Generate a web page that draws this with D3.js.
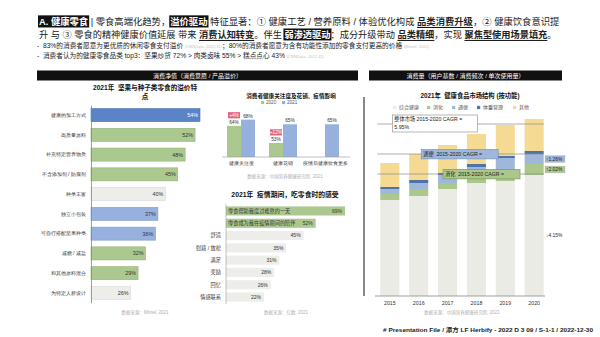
<!DOCTYPE html>
<html>
<head>
<meta charset="utf-8">
<script src="https://cdn.jsdelivr.net/npm/d3@7"></script>
<style>
  body { margin: 0; background: #fff; }
  svg { font-family: "Liberation Sans", "Noto Sans CJK SC", sans-serif; }
  text { white-space: pre; }
</style>
</head>
<body>
<svg id="slide" width="600" height="337"></svg>
<script>
// ---- left: 2021 nut & seed snack premium features (%)
const premiumCats = ["健康的加工方式", "高质量原料", "补充特定营养物质", "不含添加剂 / 防腐剂", "种类丰富",
    "独立小包装", "可自行搭配坚果种类", "减糖 / 减盐", "和其他原料混合", "为特定人群设计"];
const premiumVals = [54, 52, 48, 45, 40, 37, 36, 32, 29, 26];
const premiumTone = ["blue", "green", "green", "green", "grey", "lightblue", "lightblue", "green", "green", "grey"];

// ---- middle top: health attention / spending / after covid (%)
const attnGroups = ["健康关注度", "健康花销", "疫情后健康饮食更多"];
const attnYears = ["2020", "2021"];
const attn2020 = [64, 53, null];
const attn2021 = [68, 65, 65];
const attnDelta = ["+4%", "+12%", null];

// ---- middle bottom: feelings when snacking during covid (%)
const feelCats = ["零食帮助我度过难熬的一天", "零食成为我在疫情期间的陪伴", "舒适", "慰藉 / 放松", "满足", "奖励", "回忆", "情感联系"];
const feelVals = [69, 52, 45, 35, 31, 28, 26, 22];

// ---- right: health food market structure by function
const years = ["2015", "2016", "2017", "2018", "2019", "2020"];
const funcKeys = ["综合健康", "消化", "通便", "体重管理", "其他"];
const sGeneral = [96, 100, 107, 113, 115, 121];
const sDigest = [6, 7, 6, 5, 11, 11];
const sLaxative = [5, 6, 8, 11, 12, 10];
const sWeight = [2, 3, 2, 3, 2, 3];
const sOther = [24, 26, 28, 30, 31, 32];
const cagrNames = ["整体市场", "通便", "消化"];
const cagrLevels = [172, 142, 122];
const cagrVals = ["5.95%", "", ""];
const changeKeys = ["通便", "消化", "综合健康"];
const changeVals = ["↑1.26%", "↑2.02%", "↓4.15%"];

const svg = d3.select("#slide");

// ---------- rich text: one <text> per line, tspans per segment ----------
function fitLine(segs, x, y, target) {
    const g = svg.append("g");
    const t = g.append("text").attr("x", x).attr("y", y).attr("font-size", 10);
    const spans = segs.map(s => t.append("tspan")
        .attr("font-size", s.note ? 6.2 : 10)
        .attr("font-weight", s.bold ? 700 : 400)
        .attr("fill", s.box ? "#fff" : (s.note ? "#c4c4c4" : "#222"))
        .text(s.t));
    const fs = 10 * target / t.node().getComputedTextLength();
    t.attr("font-size", fs);
    spans.forEach((sp, i) => sp.attr("font-size", segs[i].note ? fs * 0.62 : fs));

    segs.forEach((s, i) => {
        const node = spans[i].node();
        const sx = t.node().getStartPositionOfChar(
            segs.slice(0, i).reduce((a, b) => a + b.t.length, 0)).x;
        const w = node.getComputedTextLength();
        if (s.box) {
            g.insert("rect", "text")
                .attr("x", sx - 1).attr("y", y - fs * 0.98)
                .attr("width", w + 2).attr("height", fs * 1.3)
                .attr("fill", "#111");
        }
        if (s.under) {
            g.append("line")
                .attr("x1", sx).attr("x2", sx + w)
                .attr("y1", y + fs * 0.32).attr("y2", y + fs * 0.32)
                .attr("stroke", "#111").attr("stroke-width", 1);
        }
    });
}

fitLine([
    {t: "A. 健康零食", box: true, bold: true},
    {t: " | 零食高端化趋势，"},
    {t: "溢价驱动", box: true, bold: true},
    {t: " 特征显著：① 健康工艺 / 营养原料 / 体验优化构成 "},
    {t: "品类消费升级", bold: true, under: true},
    {t: "，② 健康饮食意识提"}
], 39, 24.5, 521);

fitLine([
    {t: "升 与 ③ 零食的精神健康价值延展 带来 "},
    {t: "消费认知转变", bold: true, under: true},
    {t: "。伴生 "},
    {t: "弱渗透驱动", box: true, bold: true},
    {t: "：成分升级带动 "},
    {t: "品类精细", bold: true, under: true},
    {t: "，实现 "},
    {t: "聚焦型使用场景填充", bold: true, under: true},
    {t: "。"}
], 39, 37.5, 518);

fitLine([
    {t: "-  83%的消费者愿意为更优质的休闲零食支付溢价 "},
    {t: "(CBNData, 2022.11)", note: true},
    {t: "；80%的消费者愿意为含有功能性添加的零食支付更高的价格 "},
    {t: "(Mintel, 2022)", note: true}
], 37, 48, 393);

fitLine([
    {t: "-  消费者认为的健康零食品类 top3：坚果炒货 72% > 肉类卤味 55% > 糕点点心 43% "},
    {t: "(CBNData, 2022.11)", note: true}
], 37, 58, 287);

// ---------- section header bars ----------
function headerBar(x1, x2, label) {
    svg.append("rect").attr("x", x1).attr("y", 70.5).attr("width", x2 - x1).attr("height", 10).attr("fill", "#111");
    svg.append("text").attr("x", (x1 + x2) / 2).attr("y", 77.6)
        .attr("text-anchor", "middle").attr("font-size", 6).attr("fill", "#fff")
        .text(label);
}
headerBar(37, 358, "消费净值（消费意愿 / 产品溢价）");
headerBar(369, 562, "消费量（用户基数 / 消费频次 / 单次使用量）");

function source(x, y, label) {
    svg.append("text").attr("x", x).attr("y", y).attr("text-anchor", "middle")
        .attr("font-size", 4.5).attr("fill", "#b0b0b0").text(label);
}

// ---------- left chart ----------
const toneFill = {blue: "#5b84c8", lightblue: "#96b1dd", green: "#abc98e", grey: "#ededea"};
const toneStroke = {blue: "#4a71b0", lightblue: "#7d9bcc", green: "#92b475", grey: "#d9d9d5"};

svg.append("text").attr("x", 145).attr("y", 89.5).attr("text-anchor", "middle")
    .attr("font-size", 6.6).attr("font-weight", 700).attr("fill", "#111")
    .text("2021年  坚果与种子类零食的溢价特");
svg.append("text").attr("x", 145).attr("y", 99).attr("text-anchor", "middle")
    .attr("font-size", 6.6).attr("font-weight", 700).attr("fill", "#111")
    .text("点");

const lx = d3.scaleLinear().domain([10, 54]).range([91, 200]);
const ly = d3.scaleBand().domain(premiumCats).range([105.2, 302.8]).paddingInner(0.34).paddingOuter(0.17);

svg.append("g").selectAll("rect")
    .data(premiumCats)
    .enter().append("rect")
    .attr("x", lx(10))
    .attr("y", d => ly(d))
    .attr("width", (d, i) => lx(premiumVals[i]) - lx(10))
    .attr("height", ly.bandwidth())
    .attr("fill", (d, i) => toneFill[premiumTone[i]])
    .attr("stroke", (d, i) => toneStroke[premiumTone[i]])
    .attr("stroke-width", 0.6);

svg.append("g").selectAll("text")
    .data(premiumCats)
    .enter().append("text")
    .attr("x", (d, i) => lx(premiumVals[i]) - 2)
    .attr("y", d => ly(d) + ly.bandwidth() / 2 + 2)
    .attr("text-anchor", "end")
    .attr("font-size", 5.4)
    .attr("fill", (d, i) => premiumTone[i] === "blue" ? "#fff" : "#333")
    .text((d, i) => premiumVals[i] + "%");

const lAxis = svg.append("g")
    .attr("transform", "translate(" + lx(10) + ",0)")
    .call(d3.axisLeft(ly).tickSize(0).tickPadding(5));
lAxis.select(".domain").attr("stroke", "#888").attr("stroke-width", 0.8);
lAxis.selectAll("text").attr("font-size", 5.2).attr("fill", "#333").attr("font-family", null);

source(145, 313.5, "数据来源：Mintel, 2021");

// ---------- middle top chart ----------
svg.append("text").attr("x", 291).attr("y", 98).attr("text-anchor", "middle")
    .attr("font-size", 5.6).attr("font-weight", 700).attr("fill", "#111")
    .text("消费者健康关注度及花销、疫情影响");

const yearColor = d3.scaleOrdinal().domain(attnYears).range(["#abc98e", "#96b1dd"]);
const mx0 = d3.scaleBand().domain(attnGroups).range([220, 346]).paddingInner(1 / 3).paddingOuter(1 / 6);
const mx1 = d3.scaleBand().domain(attnYears).range([0, mx0.bandwidth()]);
const my = d3.scaleLinear().domain([44, 70]).range([157, 116.5]);

const mLegend = svg.append("g").selectAll("g")
    .data(attnYears)
    .enter().append("g")
    .attr("transform", (d, i) => "translate(" + (261 + i * 21) + ",102.5)");
mLegend.append("rect").attr("x", 0).attr("y", -1.6).attr("width", 3.2).attr("height", 3.2).attr("fill", yearColor);
mLegend.append("text").attr("x", 5).attr("y", 1.7).attr("font-size", 4.6).attr("fill", "#555").text(d => d);

const attnRows = [];
attnGroups.forEach((g, i) => {
    attnYears.forEach(y => {
        const v = y === "2020" ? attn2020[i] : attn2021[i];
        if (v != null) attnRows.push({group: g, year: y, value: v, delta: y === "2020" ? attnDelta[i] : null});
    });
});

svg.append("g").selectAll("rect")
    .data(attnRows)
    .enter().append("rect")
    .attr("x", d => mx0(d.group) + mx1(d.year))
    .attr("y", d => my(d.value))
    .attr("width", mx1.bandwidth())
    .attr("height", d => my(44) - my(d.value))
    .attr("fill", d => yearColor(d.year));

svg.append("g").selectAll("text")
    .data(attnRows)
    .enter().append("text")
    .attr("x", d => mx0(d.group) + mx1(d.year) + mx1.bandwidth() / 2)
    .attr("y", d => my(d.value) - 2)
    .attr("text-anchor", "middle")
    .attr("font-size", 4.8)
    .attr("fill", "#333")
    .text(d => d.value + "%");

const deltaTags = svg.append("g").selectAll("g")
    .data(attnRows.filter(d => d.delta))
    .enter().append("g")
    .attr("transform", d => "translate(" + (mx0(d.group) + mx1(d.year) + mx1.bandwidth() / 2) + "," + (my(d.value) - 10.5) + ")");
deltaTags.append("rect").attr("x", -6).attr("y", -3.2).attr("width", 12).attr("height", 6.2).attr("fill", "#e3647f");
deltaTags.append("text").attr("y", 1.8).attr("text-anchor", "middle").attr("font-size", 4.8).attr("fill", "#fff").text(d => d.delta);

const mAxis = svg.append("g")
    .attr("transform", "translate(0," + my(44) + ")")
    .call(d3.axisBottom(mx0).tickSize(0).tickPadding(4).tickSizeOuter(0));
mAxis.select(".domain").attr("stroke", "#999").attr("stroke-width", 0.6).attr("d", "M222,0H350");
mAxis.selectAll("text").attr("font-size", 5).attr("fill", "#333").attr("font-family", null);

source(285, 177.5, "数据来源：中国营养健康研究院, 2021");

// separator
svg.append("line").attr("x1", 364).attr("x2", 364).attr("y1", 97).attr("y2", 296)
    .attr("stroke", "#111").attr("stroke-width", 1);

// ---------- middle bottom chart ----------
svg.append("text").attr("x", 285).attr("y", 196.5).attr("text-anchor", "middle")
    .attr("font-size", 6.8).attr("font-weight", 700).attr("fill", "#111")
    .text("2021年  疫情期间，吃零食时的感受");

const fx = d3.scaleLinear().domain([0, 69]).range([226, 345]);
const fy = d3.scaleBand().domain(feelCats).range([204.8, 303.2]).paddingInner(0.26).paddingOuter(0.13);

svg.append("g").selectAll("rect")
    .data(feelCats)
    .enter().append("rect")
    .attr("x", fx(0))
    .attr("y", d => fy(d))
    .attr("width", (d, i) => fx(feelVals[i]) - fx(0))
    .attr("height", fy.bandwidth())
    .attr("fill", (d, i) => i < 2 ? toneFill.green : toneFill.grey);

svg.append("g").selectAll("text")
    .data(feelCats)
    .enter().append("text")
    .attr("x", (d, i) => fx(feelVals[i]) - 3)
    .attr("y", d => fy(d) + fy.bandwidth() / 2 + 1.8)
    .attr("text-anchor", "end")
    .attr("font-size", 5)
    .attr("fill", "#333")
    .text((d, i) => feelVals[i] + "%");

svg.append("g").selectAll("text")
    .data(feelCats)
    .enter().append("text")
    .attr("x", (d, i) => i < 2 ? fx(0) + 2 : fx(0) - 5)
    .attr("y", d => fy(d) + fy.bandwidth() / 2 + 1.8)
    .attr("text-anchor", (d, i) => i < 2 ? "start" : "end")
    .attr("font-size", 5.2)
    .attr("fill", "#333")
    .text(d => d);

svg.append("line").attr("x1", fx(0)).attr("x2", fx(0)).attr("y1", 204).attr("y2", 304)
    .attr("stroke", "#999").attr("stroke-width", 0.6);

source(286, 313.5, "数据来源：亿欧, 2021");

// ---------- right chart ----------
svg.append("text").attr("x", 470).attr("y", 98).attr("text-anchor", "middle")
    .attr("font-size", 6.3).attr("font-weight", 700).attr("fill", "#111")
    .text("2021年  健康食品市场结构 (按功能)");

const funcColor = d3.scaleOrdinal().domain(funcKeys)
    .range(["#e9ebe4", "#abc78c", "#9fb7db", "#4f73a8", "#f4da92"]);

const rLegendX = [393, 427, 452, 477, 513];
const rLegend = svg.append("g").selectAll("g")
    .data(funcKeys)
    .enter().append("g")
    .attr("transform", (d, i) => "translate(" + rLegendX[i] + ",107.5)");
rLegend.append("rect").attr("x", 0).attr("y", -1.6).attr("width", 3.2).attr("height", 3.2).attr("fill", funcColor);
rLegend.append("text").attr("x", 6).attr("y", 1.8).attr("font-size", 5).attr("fill", "#555").text(d => d);

const stackRows = years.map((y, i) => ({
    year: y, "综合健康": sGeneral[i], "消化": sDigest[i], "通便": sLaxative[i], "体重管理": sWeight[i], "其他": sOther[i]
}));
const series = d3.stack().keys(funcKeys)(stackRows);

const xr = d3.scaleBand().domain(years).range([376, 548]).paddingInner(0.34).paddingOuter(0.15);
const yr = d3.scaleLinear().domain([0, 180]).range([296, 116]);

svg.append("g").selectAll("g")
    .data(series)
    .enter().append("g")
    .attr("fill", d => funcColor(d.key))
    .selectAll("rect")
    .data(d => d)
    .enter().append("rect")
    .attr("x", d => xr(d.data.year))
    .attr("y", d => yr(d[1]))
    .attr("width", xr.bandwidth())
    .attr("height", d => yr(d[0]) - yr(d[1]));

const rAxis = svg.append("g")
    .attr("transform", "translate(0," + yr(0) + ")")
    .call(d3.axisBottom(xr).tickSize(0).tickPadding(5).tickSizeOuter(0));
rAxis.select(".domain").attr("stroke", "#888").attr("stroke-width", 0.8).attr("d", "M375,0H545");
rAxis.selectAll("text").attr("font-size", 5.3).attr("fill", "#333").attr("font-family", null);

// CAGR reference lines
svg.append("g").selectAll("line")
    .data(cagrLevels)
    .enter().append("line")
    .attr("x1", xr("2015") - 3)
    .attr("x2", xr("2020") + xr.bandwidth())
    .attr("y1", d => yr(d)).attr("y2", d => yr(d))
    .attr("stroke", "#8a8a8a").attr("stroke-width", 0.7);

const boxAnchor = ["2015", "2016", "2017"];
const boxDx = [12, 12, 5];
const boxStyle = [["#fff", "#888"], ["#9fb7db", "#6f8dbd"], ["#abc78c", "#6f9450"]];
cagrNames.forEach((name, i) => {
    const bx = xr(boxAnchor[i]) + boxDx[i];
    const by = yr(cagrLevels[i]);
    const two = cagrVals[i] !== "";
    const h = two ? 17 : 9.5;
    const top = two ? by - 9 : by - 4.6;
    svg.append("rect").attr("x", bx).attr("y", top).attr("width", two ? 85 : 77).attr("height", h)
        .attr("fill", boxStyle[i][0]).attr("stroke", boxStyle[i][1]).attr("stroke-width", 0.6);
    svg.append("text").attr("x", bx + 2).attr("y", top + 6.4).attr("font-size", 5.2).attr("fill", "#222")
        .text(name + (two ? " " : "  ") + "2015-2020 CAGR =");
    if (two) svg.append("text").attr("x", bx + 2).attr("y", top + 14).attr("font-size", 5.2).attr("fill", "#222")
        .text(cagrVals[i]);
});

// change labels at right of 2020 bar
const last = years.length - 1;
changeKeys.forEach((k, i) => {
    const s = series.find(d => d.key === k)[last];
    const cy = yr((s[0] + s[1]) / 2);
    const filled = k !== "综合健康";
    svg.append("rect").attr("x", 545).attr("y", cy - 3.4).attr("width", 20).attr("height", 6.8)
        .attr("fill", filled ? funcColor(k) : "#fff")
        .attr("stroke", filled ? "#bbb" : "none").attr("stroke-width", 0.4);
    svg.append("text").attr("x", 546).attr("y", cy + 1.8).attr("font-size", 4.9).attr("fill", "#222")
        .text(changeVals[i]);
});

source(462, 313.5, "数据来源：中国营养健康研究院, 2021");

// ---------- footer ----------
svg.append("text").attr("x", 383).attr("y", 332)
    .attr("font-size", 6).attr("font-weight", 700).attr("fill", "#222")
    .attr("textLength", 210).attr("lengthAdjust", "spacingAndGlyphs")
    .text("# Presentation File / 添方 LF Herbify - 2022 D 3 09 / S-1-1 / 2022-12-30");
</script>
</body>
</html>
